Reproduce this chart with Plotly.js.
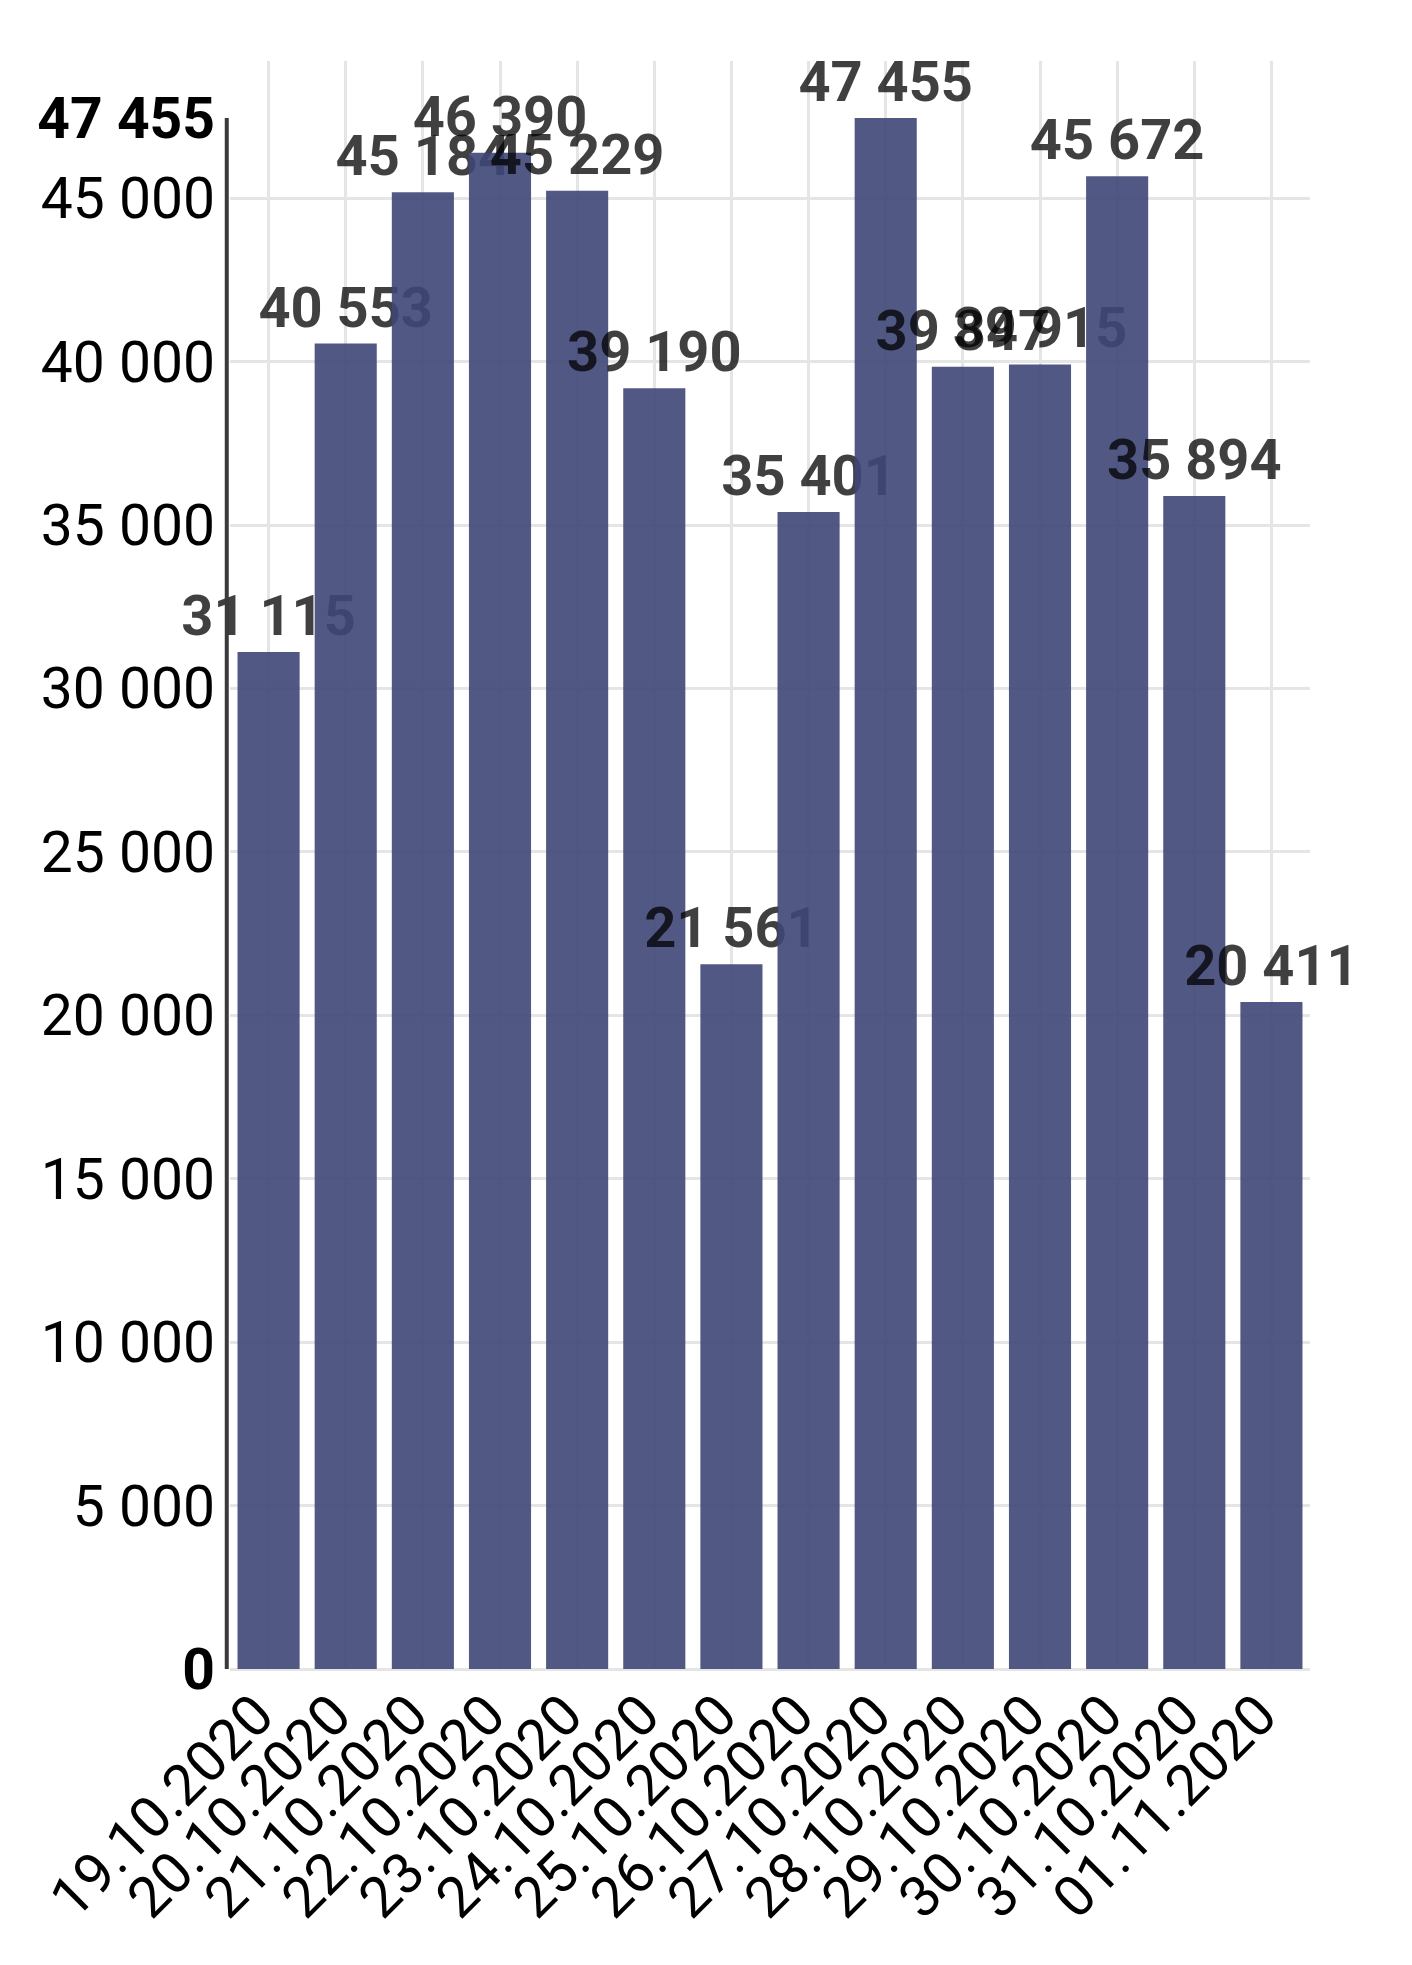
<!DOCTYPE html>
<html>
<head>
<meta charset="utf-8">
<script src="https://cdn.plot.ly/plotly-3.0.1.min.js"></script>
<style>html,body{margin:0;padding:0;background:#fff;}#chart{width:1412px;height:1965px;}</style>
</head>
<body>
<div id="chart"></div>
<script>
const dates = ["19.10.2020","20.10.2020","21.10.2020","22.10.2020","23.10.2020","24.10.2020","25.10.2020","26.10.2020","27.10.2020","28.10.2020","29.10.2020","30.10.2020","31.10.2020","01.11.2020"];
const values = [31115, 40553, 45184, 46390, 45229, 39190, 21561, 35401, 47455, 39847, 39915, 45672, 35894, 20411];
const yTicks = [0, 5000, 10000, 15000, 20000, 25000, 30000, 35000, 40000, 45000];

function fmt(v){ return String(v).replace(/\B(?=(\d{3})+(?!\d))/g, ' '); }
const maxVal = Math.max.apply(null, values);
const yTop = 49200;

const bars = {
  type: 'bar',
  x: dates,
  y: values,
  marker: {color: 'rgba(62,70,118,0.9)'},
  text: values.map(fmt),
  textposition: 'outside',
  textangle: 0,
  constraintext: 'none',
  cliponaxis: false,
  textfont: {family: 'Roboto', size: 56, color: 'rgba(0,0,0,0.75)', weight: 700},
  hoverinfo: 'x+y'
};
const ghost = {
  type: 'scatter', mode: 'markers', x: dates, y: values, yaxis: 'y2',
  marker: {opacity: 0, size: 1}, hoverinfo: 'skip', showlegend: false
};

const layout = {
  width: 1412, height: 1965,
  margin: {l: 230, r: 102, t: 61, b: 296},
  paper_bgcolor: '#fff', plot_bgcolor: '#fff',
  showlegend: false,
  bargap: 0.195,
  font: {family: 'Roboto', color: '#000'},
  xaxis: {
    type: 'category',
    range: [-0.5, dates.length - 0.5],
    automargin: false,
    tickangle: -45,
    ticklabelshift: -12,
    tickfont: {family: 'Roboto', size: 57, color: '#000'},
    showgrid: true, gridcolor: '#e5e5e5', gridwidth: 3,
    showline: false, ticks: '', zeroline: false
  },
  yaxis: {
    automargin: false,
    range: [0, yTop],
    tickvals: yTicks,
    ticktext: yTicks.map(v => v === 0 ? '<b>0</b>' : fmt(v)),
    tickfont: {family: 'Roboto', size: 57, color: '#000'},
    showgrid: true, gridcolor: '#e5e5e5', gridwidth: 3,
    zeroline: true, zerolinecolor: '#e5e5e5', zerolinewidth: 3,
    showline: false, ticks: '', ticklabelstandoff: 14
  },
  yaxis2: {
    automargin: false,
    overlaying: 'y', side: 'left',
    range: [0, yTop],
    tickvals: [maxVal],
    ticktext: ['<b>' + fmt(maxVal) + '</b>'],
    tickfont: {family: 'Roboto', size: 57, color: '#000'},
    showgrid: false, zeroline: false, showline: false, ticks: '', ticklabelstandoff: 14
  },
  shapes: [{
    type: 'line', xref: 'paper', yref: 'y', x0: -0.003, x1: -0.003, y0: 0, y1: maxVal,
    line: {color: '#3a3a3a', width: 4}
  }]
};

Plotly.newPlot('chart', [bars, ghost], layout, {displayModeBar: false, staticPlot: true});
</script>
</body>
</html>
